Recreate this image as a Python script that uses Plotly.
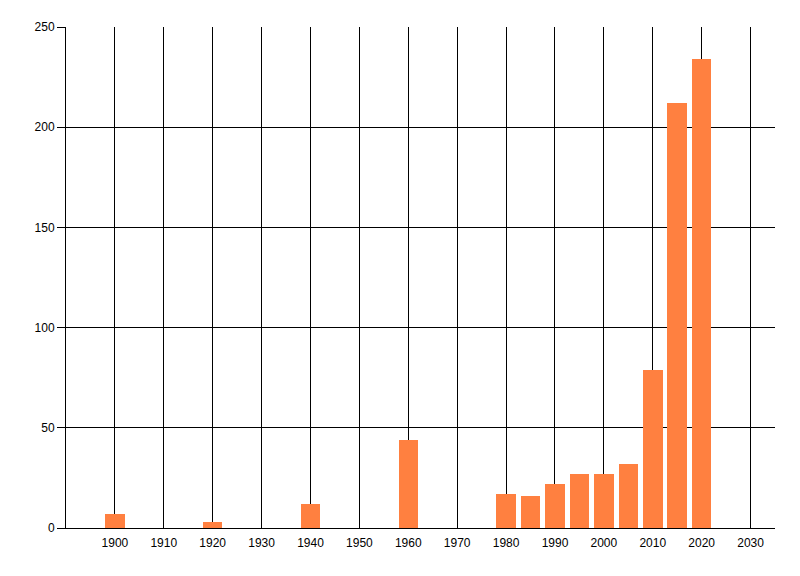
import plotly.graph_objects as go

years = [1900, 1920, 1940, 1960, 1980, 1985, 1990, 1995, 2000, 2005, 2010, 2015, 2020]
counts = [7, 3, 12, 44, 17, 16, 22, 27, 27, 32, 79, 212, 234]
x_ticks = list(range(1900, 2031, 10))
y_ticks = [0, 50, 100, 150, 200, 250]

fig = go.Figure()
fig.add_trace(go.Bar(x=years, y=counts, width=4,
                     marker=dict(color='#FF8040', line=dict(width=0))))

# the page body adds an 8px offset, so margins are trimmed to match
fig.update_layout(
    width=800, height=576,
    margin=dict(l=58, r=33, t=19, b=56),
    plot_bgcolor='white', paper_bgcolor='white',
    font=dict(family='Liberation Sans, Arial, sans-serif', size=12, color='black'),
    showlegend=False,
    bargap=0,
)
fig.update_xaxes(range=[1890, 2035], tickvals=x_ticks, ticktext=[str(v) for v in x_ticks],
                 showgrid=True, gridcolor='black', gridwidth=1,
                 showline=True, linecolor='black', linewidth=1,
                 ticks='', zeroline=False, ticklabelstandoff=4)
fig.update_yaxes(range=[0, 250], tickvals=y_ticks,
                 showgrid=True, gridcolor='black', gridwidth=1,
                 showline=True, linecolor='black', linewidth=1,
                 ticks='outside', ticklen=8, tickcolor='black',
                 zeroline=False)

fig.write_html("out.html")
